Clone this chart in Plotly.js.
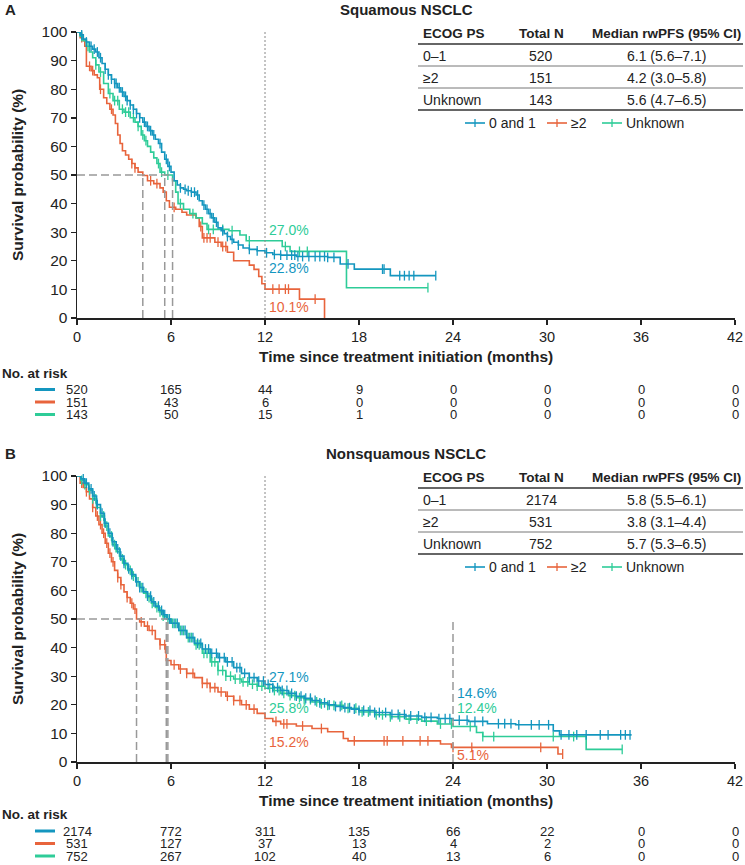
<!DOCTYPE html>
<html><head><meta charset="utf-8">
<script src="https://cdn.plot.ly/plotly-3.0.1.min.js"></script>
<style>html,body{margin:0;padding:0;background:#fff}#chart{width:745px;height:865px}</style>
</head><body><div id="chart"></div>
<script>
// ---------------- DATA ----------------
const groupNames = ['0 and 1', '≥2', 'Unknown'];
const ecogLabels = ['0–1', '≥2', 'Unknown'];
const riskMonths = [0, 6, 12, 18, 24, 30, 36, 42];

// Panel A: Squamous NSCLC
const titleA = 'Squamous NSCLC';
const totalNA = [520, 151, 143];
const medianTextA = ['6.1 (5.6–7.1)', '4.2 (3.0–5.8)', '5.6 (4.7–6.5)'];
const medianA = [6.1, 4.2, 5.6];
const landmark12A = ['22.8%', '10.1%', '27.0%'];
const riskA0 = [520, 165, 44, 9, 0, 0, 0, 0];
const riskA2 = [151, 43, 6, 0, 0, 0, 0, 0];
const riskAU = [143, 50, 15, 1, 0, 0, 0, 0];

const timeA0 = [0,0.2,0.4,0.6,0.8,1.0,1.2,1.4,1.6,1.8,2.0,2.2,2.4,2.6,2.8,3.0,3.2,3.4,3.6,3.8,4.0,4.2,4.4,4.6,4.8,5.0,5.2,5.4,5.6,5.8,6.0,6.2,6.4,6.6,6.8,7.0,7.3,7.6,7.8,8.0,8.2,8.4,8.6,8.8,9.0,9.2,9.4,9.6,9.8,10.0,10.3,10.6,11.0,11.5,12.0,12.5,13.0,14.0,16.0,16.8,17.7,20.0,22.9];
const survA0 = [100,99,97.5,96.5,95,94,93,91,89,87,85,83.5,82,80.5,79,77.5,76,74.5,73,71.5,70,68.5,67,65.5,64,62.5,61,58,55.5,53,51,48,46.5,45.5,45,44.5,44,43,41,39.5,38,36.5,35,33.5,31.5,30.5,29.5,28.5,27.5,26.5,25.5,24.5,24,23.5,22.8,22.2,22,21.5,21.2,18.9,17.1,14.8,14.8];
const censA0 = [0.3,0.6,0.9,1.1,1.3,1.5,1.8,2.0,2.2,2.4,2.5,2.7,2.9,3.1,3.2,3.4,3.6,3.8,4.0,4.3,4.5,4.7,4.9,5.3,5.7,5.9,6.6,6.9,7.1,7.3,7.5,7.7,8.1,8.3,8.5,8.7,8.9,9.3,9.6,9.9,10.3,11.0,11.5,12.1,12.6,13.0,13.4,13.7,13.9,14.1,14.4,14.8,15.2,15.5,15.8,16.0,16.4,17.3,19.5,19.6,20.6,20.9,21.2,21.5,22.9];

const timeA2 = [0,0.2,0.4,0.5,0.6,0.9,1.1,1.3,1.45,1.7,1.9,2.1,2.3,2.45,2.6,2.75,2.9,3.1,3.3,3.5,3.7,3.9,4.2,4.5,4.9,5.3,5.5,5.7,5.9,6.3,6.7,7.0,7.6,7.8,8.0,8.8,9.2,9.6,10.0,11.0,11.3,11.6,11.8,12.0,14.2,15.8];
const survA2 = [100,98,97,95,88,86.5,85,84,80,77,75,73,71,68,64,61,58.5,57,55.5,54,52.5,51,49.8,48,47,45.5,44,41,38.7,38,37,36,35,32,28,26.5,25,23,20,18.5,17,14.5,12,10.1,6.6,0];
const censA2 = [0.3,0.8,1.0,1.5,2.2,3.5,3.7,4.7,5.1,6.2,7.9,8.1,8.3,8.5,9.0,9.3,9.5,12.5,12.9,13.3,13.5,15.2];

const timeAU = [0,0.2,0.4,0.6,0.8,1.0,1.2,1.4,1.7,2.0,2.3,2.7,3.0,3.4,3.7,3.9,4.1,4.3,4.5,4.7,4.9,5.1,5.3,5.6,6.1,6.3,6.45,6.8,7.2,7.6,8.0,8.3,9.7,10.4,10.8,13.1,13.6,17.2,22.4];
const survAU = [100,98.5,97,95,93,91,88.5,86,82,78.5,76,73,72,70,68.5,67,64,62,60,58,56,54,51,50,48,44,40,38,36.5,35,33,31,30.5,29,27,25,23.3,10.6,10.6];
const censAU = [0.3,0.7,1.2,1.5,2.1,2.4,2.6,2.9,3.1,3.3,3.6,3.9,4.2,4.4,5.2,5.4,5.8,6.6,7.4,8.4,8.7,9.3,9.9,11.0,13.3,14.2,14.7,22.4];

// Panel B: Nonsquamous NSCLC
const titleB = 'Nonsquamous NSCLC';
const totalNB = [2174, 531, 752];
const medianTextB = ['5.8 (5.5–6.1)', '3.8 (3.1–4.4)', '5.7 (5.3–6.5)'];
const medianB = [5.8, 3.8, 5.7];
const landmark12B = ['27.1%', '15.2%', '25.8%'];
const landmark24B = ['14.6%', '5.1%', '12.4%'];
const riskB0 = [2174, 772, 311, 135, 66, 22, 0, 0];
const riskB2 = [531, 127, 37, 13, 4, 2, 0, 0];
const riskBU = [752, 267, 102, 40, 13, 6, 0, 0];

const timeB0 = [0,0.25,0.5,0.75,1.0,1.25,1.5,1.75,2.0,2.25,2.5,2.75,3.0,3.25,3.5,3.75,4.0,4.25,4.5,4.75,5.0,5.25,5.5,5.75,6.0,6.5,7.0,7.5,8.0,8.5,9.0,9.5,10.0,10.5,11.0,11.5,12.0,12.5,13.0,13.5,14.0,14.5,15.0,15.5,16.0,16.5,17.0,17.5,18.0,19.0,20.0,21.0,22.0,23.0,24.0,25.0,26.2,28.0,30.4,30.8,35.4];
const survB0 = [100,99,97.5,95.5,93,90,87,83.5,80,77,74.5,72,69.5,67.5,65.5,63,61,59.5,58,56,54.5,53,51.5,50,48.5,46,43.5,41.5,39.5,38,36.5,35,33,31,29.5,28.3,27.1,26,25,24,23,22.3,21.5,20.7,20,19.4,19,18.5,18,17.3,16.6,16.1,15.6,15.2,14.6,14.2,13.4,13.0,10.9,9.5,9.5];
const censB0 = [0.4,0.6,0.9,1.1,1.3,1.6,1.8,2.1,2.3,2.6,2.8,3.0,3.3,3.5,3.8,4.0,4.2,4.5,4.7,4.9,5.2,5.4,5.6,5.9,6.2,6.4,6.7,6.9,7.2,7.4,7.7,7.9,8.2,8.4,8.6,8.9,9.1,9.4,9.6,9.9,10.2,10.4,10.7,11.0,11.3,11.6,11.9,12.2,12.5,12.8,13.1,13.4,13.7,14.0,14.3,14.6,14.9,15.2,15.5,15.8,16.1,16.5,16.8,17.1,17.4,17.7,18.0,18.3,18.7,19.0,19.3,19.7,20.1,20.5,20.9,21.3,21.8,22.2,22.6,23.1,23.5,23.8,24.4,24.9,25.4,25.9,26.9,27.3,27.7,28.2,29.0,29.5,30.1,30.9,31.4,31.9,32.5,33.4,33.9,34.7,35.0,35.3];

const timeB2 = [0,0.2,0.4,0.6,0.8,1.0,1.2,1.4,1.6,1.8,2.0,2.2,2.4,2.6,2.8,3.0,3.2,3.4,3.6,3.8,4.0,4.3,4.6,5.0,5.3,5.65,5.7,6.0,6.5,7.0,7.5,8.0,8.5,9.0,9.5,10.0,10.5,11.0,11.5,12.0,12.5,13.0,14.0,15.0,16.0,17.0,17.3,23.2,23.9,30.7,31.0];
const survB2 = [100,97.5,96,94.5,92,89,86,83,80,76.5,73,70,67,64.5,62,59.5,57.5,55.5,53.5,50,49,47.5,46,43,41,38.3,35.5,34,32.5,31,29.5,27.5,26,24.5,23,21.5,20,18.5,17,15.2,14.2,13.3,12.6,11.7,10.6,8.2,7.4,6.3,5.1,2.8,2.8];
const censB2 = [0.3,0.6,1.0,1.3,1.5,1.7,1.9,2.1,2.3,2.6,2.8,3.2,3.5,3.7,4.1,4.5,4.8,5.3,5.6,6.2,6.6,7.0,7.4,8.0,8.3,8.5,8.8,9.2,9.6,10.0,10.4,10.8,11.3,12.7,13.2,13.4,14.4,15.6,17.7,19.6,19.8,20.8,21.9,22.4,24.0,25.2,29.6,31.0];

const timeBU = [0,0.25,0.5,0.75,1.0,1.25,1.5,1.75,2.0,2.25,2.5,2.75,3.0,3.25,3.5,3.75,4.0,4.25,4.5,4.75,5.0,5.25,5.5,5.7,6.0,6.5,7.0,7.5,8.0,8.5,9.0,9.5,10.0,10.5,11.0,11.5,12.0,12.5,13.0,13.5,14.0,14.5,15.0,15.5,16.0,17.0,18.0,19.0,20.0,21.0,22.0,23.0,24.0,25.5,25.9,32.5,34.8];
const survBU = [100,98.5,97,95,92,89,86,82.5,79,76,73.5,71,69,67,65,63,61,59,57.5,55.5,54,52.5,51,50,48.5,46,43.5,41,38,35,32,30,29,28,27.2,26.5,25.8,25,24,23.2,22.5,21.8,21,20.3,19.8,18.8,17.5,16.5,15.8,15,14.3,13.3,12.4,10.3,8.9,4.4,4.4];
const censBU = [0.3,0.5,0.8,1.0,1.2,1.5,1.7,1.9,2.2,2.4,2.7,2.9,3.1,3.4,3.6,3.9,4.1,4.4,4.6,4.8,5.1,5.3,5.5,5.8,6.1,6.3,6.6,6.8,7.1,7.3,7.6,7.8,8.1,8.3,8.6,8.8,9.0,9.3,9.5,9.8,10.1,10.4,10.6,10.9,11.2,11.5,11.8,12.3,12.6,12.9,13.2,13.6,13.9,14.2,14.5,14.9,15.3,15.6,16.0,16.4,16.9,17.3,17.8,18.2,18.6,19.1,19.5,20.0,20.6,21.2,21.7,22.3,23.2,23.9,25.1,25.9,26.6,30.4,31.7,34.8];

// ---------------- STYLE ----------------
const colors = ['#1496BF', '#E8643C', '#2ECC98'];
const FONT = 'Liberation Sans, Arial, Helvetica, sans-serif';
const W = 745, H = 865;
const px = v => v / W;
const py = v => 1 - v / H;

function stepAt(T, S, x) {
  let v = S[0];
  for (let i = 0; i < T.length; i++) { if (T[i] <= x) v = S[i]; else break; }
  return v;
}

const traces = [];
function addCurve(T, S, C, color, xa, ya) {
  traces.push({x: T, y: S, xaxis: xa, yaxis: ya, mode: 'lines', line: {shape: 'hv', color: color, width: 1.6}, hoverinfo: 'skip', showlegend: false});
  traces.push({x: C, y: C.map(c => stepAt(T, S, c)), xaxis: xa, yaxis: ya, mode: 'markers', cliponaxis: false,
    marker: {symbol: 'line-ns-open', size: 7, color: color, line: {color: color, width: 1.3}}, hoverinfo: 'skip', showlegend: false});
}
addCurve(timeA2, survA2, censA2, colors[1], 'x', 'y');
addCurve(timeAU, survAU, censAU, colors[2], 'x', 'y');
addCurve(timeA0, survA0, censA0, colors[0], 'x', 'y');
addCurve(timeB2, survB2, censB2, colors[1], 'x2', 'y2');
addCurve(timeBU, survBU, censBU, colors[2], 'x2', 'y2');
addCurve(timeB0, survB0, censB0, colors[0], 'x2', 'y2');

const annotations = [];
const shapes = [];
function txt(text, x, y, o) {
  o = o || {};
  annotations.push(Object.assign({text: text, x: x, y: y, xref: 'paper', yref: 'paper', showarrow: false,
    xanchor: 'center', yanchor: 'middle', font: {family: FONT, size: 14, color: '#222'}}, o));
}
function pline(x0, y0, x1, y1, color, width, dash) {
  shapes.push({type: 'line', xref: 'paper', yref: 'paper', x0: px(x0), x1: px(x1), y0: py(y0), y1: py(y1),
    line: {color: color, width: width, dash: dash || 'solid'}});
}

function panel(off, riskOff, letter, title, totalN, medTxt, medVals, risks, xa, ya) {
  const xr = xa, yr = ya;
  txt('<b>' + letter + '</b>', px(3), py(9 + off), {xanchor: 'left', font: {family: FONT, size: 15, color: '#222'}});
  txt('<b>' + title + '</b>', px(406), py(9 + off), {font: {family: FONT, size: 15, color: '#222'}});
  txt('<b>Survival probability (%)</b>', px(17), py(175 + off), {textangle: -90, font: {family: FONT, size: 15.5, color: '#222'}});
  txt('<b>Time since treatment initiation (months)</b>', px(406), py(356 + off), {font: {family: FONT, size: 15.5, color: '#222'}});
  // summary table
  txt('<b>ECOG PS</b>', px(421), py(33 + off), {xanchor: 'left', font: {family: FONT, size: 13.5, color: '#222'}});
  txt('<b>Total N</b>', px(541), py(33 + off), {font: {family: FONT, size: 13.5, color: '#222'}});
  txt('<b>Median rwPFS (95% CI)</b>', px(666), py(33 + off), {font: {family: FONT, size: 13.5, color: '#222'}});
  const rowY = [56, 78, 99.5];
  for (let i = 0; i < 3; i++) {
    txt(ecogLabels[i], px(421), py(rowY[i] + off), {xanchor: 'left'});
    txt(String(totalN[i]), px(541), py(rowY[i] + off));
    txt(medTxt[i], px(666), py(rowY[i] + off));
  }
  pline(418, 44 + off, 743, 44 + off, '#333', 1.3);
  pline(418, 66 + off, 743, 66 + off, '#666', 0.9);
  pline(418, 88 + off, 743, 88 + off, '#666', 0.9);
  pline(418, 110 + off, 743, 110 + off, '#333', 1.3);
  // legend
  const lx = [465, 547, 602];
  for (let i = 0; i < 3; i++) {
    pline(lx[i], 123 + off, lx[i] + 20, 123 + off, colors[i], 1.6);
    pline(lx[i] + 10, 119 + off, lx[i] + 10, 127 + off, colors[i], 1.3);
    txt(groupNames[i], px(lx[i] + 22), py(123 + off), {xanchor: 'left'});
  }
  // median reference lines
  const mmax = Math.max.apply(null, medVals);
  shapes.push({type: 'line', xref: xr, yref: yr, x0: 0, x1: mmax, y0: 50, y1: 50, line: {color: '#999', width: 1.5, dash: '8px,4px'}});
  medVals.forEach(m => shapes.push({type: 'line', xref: xr, yref: yr, x0: m, x1: m, y0: 0, y1: 50, line: {color: '#999', width: 1.5, dash: '8px,4px'}}));
  shapes.push({type: 'line', xref: xr, yref: yr, x0: 12, x1: 12, y0: 0, y1: 100, line: {color: '#888', width: 1, dash: '2px,2px'}});
  // risk table
  txt('<b>No. at risk</b>', px(0), py(373 + riskOff), {xanchor: 'left', font: {family: FONT, size: 13.5, color: '#222'}});
  const ry = [389.5, 402, 414.5];
  for (let g = 0; g < 3; g++) {
    pline(35, ry[g] + riskOff, 55, ry[g] + riskOff, colors[g], 3);
    risks[g].forEach((v, k) => {
      annotations.push({text: String(v), x: riskMonths[k], y: py(ry[g] + riskOff), xref: xr, yref: 'paper', showarrow: false,
        xanchor: 'center', yanchor: 'middle', font: {family: FONT, size: 13, color: '#222'}});
    });
  }
}
panel(0, 0, 'A', titleA, totalNA, medianTextA, medianA, [riskA0, riskA2, riskAU], 'x', 'y');
panel(444, 441.5, 'B', titleB, totalNB, medianTextB, medianB, [riskB0, riskB2, riskBU], 'x2', 'y2');

// landmark labels
function lm(text, xr, xm, ypx, color) {
  annotations.push({text: text, x: xm, y: py(ypx), xref: xr, yref: 'paper', xshift: 2, showarrow: false,
    xanchor: 'left', yanchor: 'middle', font: {family: FONT, size: 14, color: color}});
}
lm(landmark12A[2], 'x', 12, 230, colors[2]);
lm(landmark12A[0], 'x', 12, 268, colors[0]);
lm(landmark12A[1], 'x', 12, 307, colors[1]);
lm(landmark12B[0], 'x2', 12, 677, colors[0]);
lm(landmark12B[2], 'x2', 12, 708, colors[2]);
lm(landmark12B[1], 'x2', 12, 742, colors[1]);
lm(landmark24B[0], 'x2', 24, 693, colors[0]);
lm(landmark24B[2], 'x2', 24, 708, colors[2]);
lm(landmark24B[1], 'x2', 24, 755, colors[1]);
shapes.push({type: 'line', xref: 'x2', yref: 'y2', x0: 24, x1: 24, y0: 0, y1: 50, line: {color: '#999', width: 1.5, dash: '8px,4px'}});

function xaxis(dom, anchor) {
  return {domain: dom, anchor: anchor, range: [0, 42], tickvals: riskMonths, ticktext: riskMonths.map(String),
    ticks: 'outside', ticklen: 5, tickwidth: 1.4, tickcolor: '#222', showline: true, linecolor: '#222', linewidth: 1.5,
    showgrid: false, zeroline: false, tickfont: {family: FONT, size: 14.5, color: '#222'}, fixedrange: true};
}
function yaxis(dom, anchor) {
  return {domain: dom, anchor: anchor, range: [0, 100], tickvals: [0,10,20,30,40,50,60,70,80,90,100],
    ticks: 'outside', ticklen: 5, tickwidth: 1.4, tickcolor: '#222', showline: true, linecolor: '#222', linewidth: 1.5,
    showgrid: false, zeroline: false, tickfont: {family: FONT, size: 15.5, color: '#222'}, fixedrange: true};
}

const layout = {
  width: W, height: H, margin: {l: 0, r: 0, t: 0, b: 0}, paper_bgcolor: '#fff', plot_bgcolor: '#fff',
  showlegend: false,
  xaxis: xaxis([px(77), px(735)], 'y'),
  yaxis: yaxis([py(318), py(32)], 'x'),
  xaxis2: xaxis([px(77), px(735)], 'y2'),
  yaxis2: yaxis([py(762), py(476)], 'x2'),
  annotations: annotations, shapes: shapes
};
Plotly.newPlot('chart', traces, layout, {displayModeBar: false, staticPlot: true});
</script></body></html>
